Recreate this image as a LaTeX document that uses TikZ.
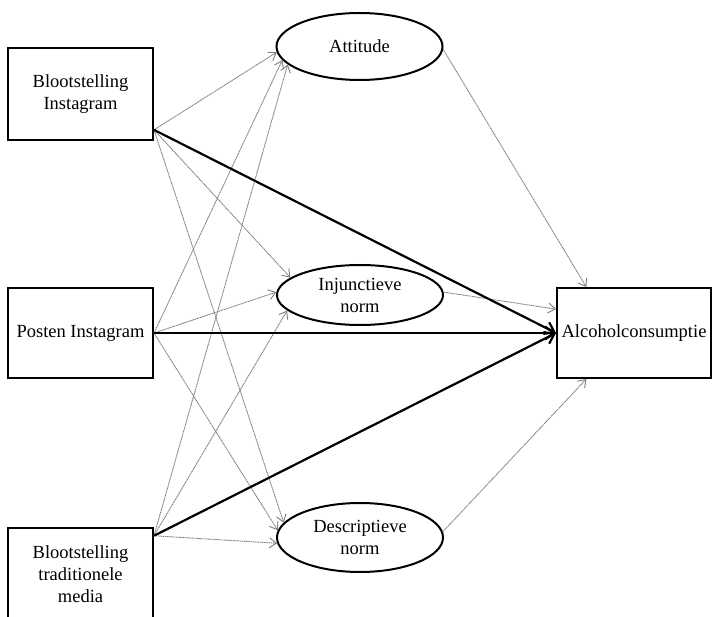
\documentclass[tikz,border=0pt]{standalone}
\usepackage{fontspec}
\setmainfont{Liberation Serif}
\usepackage{tikz}
\usetikzlibrary{arrows.meta}
\usetikzlibrary{shapes.geometric}
\definecolor{dotgray}{RGB}{125,125,125}

\begin{document}
\begin{tikzpicture}[x=1pt,y=-1pt,font=\fontsize{18.5}{22}\selectfont,
    var/.style={draw,line width=2pt,inner sep=0pt,align=center,minimum width=145pt,minimum height=92pt},
    med/.style={draw,ellipse,line width=2pt,inner sep=0pt,align=center,minimum width=166pt},
    weak/.style={color=dotgray,line width=0.9pt,dash pattern=on 1.2pt off 0.6pt,-{Straight Barb[length=7pt,width=10pt]}},
    strong/.style={color=black,line width=2.2pt,-{Straight Barb[length=9pt,width=13pt]}}]
  \useasboundingbox (0,0) rectangle (713,617);
  \node[var] (bi) at (80.5,94) {Blootstelling\\Instagram};
  \node[var,minimum height=90pt] (pi) at (80.5,333) {Posten Instagram};
  \node[var,minimum height=97pt] (bt) at (80.5,576.5)
    {\raisebox{5pt}{\begin{tabular}{@{}c@{}}Blootstelling\\traditionele\\media\end{tabular}}};
  \node[med,minimum height=67pt] (att) at (359.5,46.5) {Attitude};
  \node[med,minimum height=60pt] (inj) at (360,295) {Injunctieve\\norm};
  \node[med,minimum height=69pt] (des) at (360,537.5) {Descriptieve\\norm};
  \node[var,minimum width=154pt,minimum height=90pt] (alc) at (634,333) {Alcoholconsumptie};
  \path[weak]
    (bi.-26) edge (att.184)
    (bi.-26) edge (inj.166)
    (bi.-26) edge (des.169)
    (pi.east) edge (att.190)
    (pi.east) edge (inj.178)
    (pi.east) edge (des.175)
    (bt.29) edge (att.194)
    (bt.29) edge (inj.192)
    (bt.29) edge (des.184)
    (att.-2) edge (alc.136)
    (inj.2) edge (alc.163)
    (des.4) edge (alc.224);
  \path[strong]
    (bi.-26) edge (alc.west)
    (pi.east) edge (alc.west)
    (bt.29) edge (alc.west);
\end{tikzpicture}
\end{document}
